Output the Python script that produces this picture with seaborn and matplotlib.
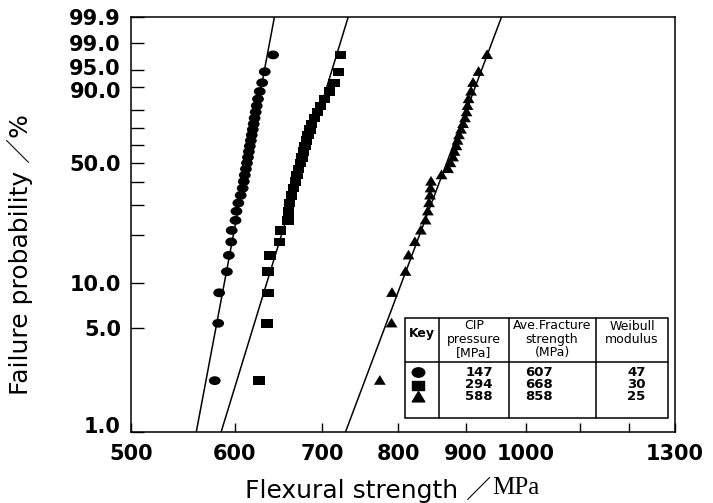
import numpy as np
import pandas as pd
import matplotlib
matplotlib.use("Agg")
import matplotlib.pyplot as plt
import matplotlib.transforms as mtransforms
import seaborn as sns
from matplotlib.path import Path
from matplotlib.lines import Line2D
from matplotlib.patches import Rectangle
from matplotlib.ticker import NullLocator

# ---------------- data ----------------
cip_pressure = [147, 294, 588]
ave_strength = [607, 668, 858]
weibull_modulus = [47, 30, 25]

failure_prob = [2.23, 5.41, 8.60, 11.78, 14.97, 18.15, 21.34, 24.52, 27.71, 30.89,
                34.08, 37.26, 40.45, 43.63, 46.82, 50.00, 53.18, 56.37, 59.55, 62.74,
                65.92, 69.11, 72.29, 75.48, 78.66, 81.85, 85.03, 88.22, 91.40, 94.59,
                97.77]

strength_147 = [579.5, 583, 584, 592, 594, 596.5, 597, 601, 602, 604,
                606.5, 608.6, 609.8, 610.9, 612.1, 613.2, 614.3, 615.3, 616.3, 617.4,
                618.4, 619.5, 620.5, 621.5, 622.7, 623.8, 625.2, 627.1, 629.8, 632.7,
                642]
strength_294 = [626, 635.4, 636.5, 636.5, 638.3, 649.2, 650.3, 659, 659.6, 660.7,
                663, 665.4, 667.7, 669.5, 671.2, 673.6, 675.4, 677.2, 679, 680.8,
                682.6, 684.9, 686.8, 690.4, 694, 697.7, 702.6, 708.8, 714.4, 720.1,
                722.6]
strength_588 = [774.3, 790.4, 791, 810, 814.3, 823.4, 832.1, 839, 842.4, 844.1,
                845.6, 846.4, 847.1, 862.9, 872.8, 876.6, 880.5, 882.8, 885.9, 887.5,
                889.8, 892.9, 896.1, 899.2, 901.6, 903.2, 904.8, 908.8, 912, 920.8,
                934.7]

# fitted Weibull lines: strength at 1.0 % and at 99.9 % failure probability
fit_prob = [1.0, 99.9]
fit_strength_low = [561, 586, 729]
fit_strength_high = [643.5, 732.5, 958.7]

x_ticks = [500, 600, 700, 800, 900, 1000, 1100, 1200, 1300]
x_ticklabels = ["500", "600", "700", "800", "900", "1000", "", "", "1300"]
y_ticks = [1.0, 5.0, 10.0, 20, 30, 40, 50.0, 60, 70, 80, 90.0, 95.0, 99.0, 99.9]
y_ticklabels = ["1.0", "5.0", "10.0", "", "", "", "50.0", "", "", "", "90.0", "95.0", "99.0", "99.9"]

# ---------------- style ----------------
sns.set_theme(style="ticks")
plt.rcParams["font.family"] = ["DejaVu Sans", "Noto Sans CJK JP"]

W, H = 713, 503
fig = plt.figure(figsize=(W / 100, H / 100), dpi=100)
L, R, T, B = 130.7, 675.0, 17.0, 432.0
ax = fig.add_axes([L / W, (H - B) / H, (R - L) / W, (B - T) / H])


def weib_fwd(p):
    p = np.clip(np.asarray(p, dtype=float), 1e-9, 100 - 1e-9)
    return np.log(-np.log(1.0 - p / 100.0))


def weib_inv(w):
    return 100.0 * (1.0 - np.exp(-np.exp(np.asarray(w, dtype=float))))


ax.set_xscale("log")
ax.set_yscale("function", functions=(weib_fwd, weib_inv))

# markers (slightly wide, as in the scanned figure)
ell = Path.unit_circle().transformed(mtransforms.Affine2D().scale(1.0, 0.75))
sq = Path([(-1, -0.72), (1, -0.72), (1, 0.72), (-1, 0.72), (-1, -0.72)],
          [Path.MOVETO, Path.LINETO, Path.LINETO, Path.LINETO, Path.CLOSEPOLY])
tri = Path([(-1, -0.7), (1, -0.7), (0, 0.95), (-1, -0.7)],
           [Path.MOVETO, Path.LINETO, Path.LINETO, Path.CLOSEPOLY])
marker_list = [ell, sq, tri]
marker_map = {str(c): m for c, m in zip(cip_pressure, marker_list)}

strengths = [strength_147, strength_294, strength_588]
points = pd.concat(
    [pd.DataFrame({"strength": s, "prob": failure_prob, "cip": str(c)})
     for c, s in zip(cip_pressure, strengths)],
    ignore_index=True)

sns.scatterplot(data=points, x="strength", y="prob", style="cip",
                markers=marker_map, color="black", s=72, linewidth=0,
                legend=False, ax=ax, zorder=3)

for lo, hi in zip(fit_strength_low, fit_strength_high):
    ax.plot([lo, hi], fit_prob, color="black", lw=1.1, zorder=2)

ax.set_xlim(500, 1300)
ax.set_ylim(1.0, 99.9)

ax.set_xticks(x_ticks)
ax.set_xticklabels(x_ticklabels)
ax.xaxis.set_minor_locator(NullLocator())
ax.set_yticks(y_ticks)
ax.set_yticklabels(y_ticklabels)
ax.yaxis.set_minor_locator(NullLocator())

ax.tick_params(axis="y", direction="in", length=9.5, width=1.0, color="black",
               labelsize=15, pad=7, labelcolor="black")
ax.tick_params(axis="x", direction="in", length=6.5, width=1.0, color="black",
               labelsize=15, pad=9, labelcolor="black")
for lab in ax.get_xticklabels() + ax.get_yticklabels():
    lab.set_fontweight("bold")

# nudge crowded y labels apart (as in the reference, where 1.0 sits a bit above the axis)
label_shift_px = {"95.0": 3.5, "90.0": -3.5, "1.0": 7.0}
for lab in ax.get_yticklabels():
    dy = label_shift_px.get(lab.get_text())
    if dy:
        lab.set_transform(lab.get_transform() +
                          mtransforms.ScaledTranslation(0, dy / 100, fig.dpi_scale_trans))

for sp in ax.spines.values():
    sp.set_visible(True)
    sp.set_color("black")
    sp.set_linewidth(1.1)

ax.set_xlabel("")
ax.set_ylabel("Failure probability ／%", fontsize=18, color="black")
ax.yaxis.set_label_coords((33 - L) / (R - L), (B - 255) / (B - T))

t1 = fig.text(245 / W, 1 - 490 / H, "Flexural strength ／", fontsize=18,
              ha="left", va="center", color="black")
ax.annotate("MPa", xy=(1, 0.5), xycoords=t1, xytext=(1, 1.5),
            textcoords="offset points", ha="left", va="center",
            fontsize=18, family="Liberation Serif", color="black")

# ---------------- table ----------------
def axp(px, py):
    return ((px - L) / (R - L), (B - py) / (B - T))


x0, ytop = axp(405, 318)
x1, ybot = axp(668, 418)
_, ysep = axp(0, 362)
ax.add_patch(Rectangle((x0, ybot), x1 - x0, ytop - ybot, transform=ax.transAxes,
                       facecolor="white", edgecolor="black", lw=1.1, zorder=5))
for px in [439, 509, 596]:
    xc, _ = axp(px, 0)
    ax.add_line(Line2D([xc, xc], [ybot, ytop], transform=ax.transAxes,
                       color="black", lw=1.1, zorder=6))
ax.add_line(Line2D([x0, x1], [ysep, ysep], transform=ax.transAxes,
                   color="black", lw=1.1, zorder=6))

hdr_kw = dict(transform=ax.transAxes, ha="center", va="center", fontsize=9,
              color="black", zorder=7, linespacing=1.05)
ax.text(*axp(422, 334), "Key", fontweight="bold", **hdr_kw)
ax.text(*axp(474, 339), "CIP\npressure\n[MPa]", **hdr_kw)
ax.text(*axp(552, 339), "Ave.Fracture\nstrength\n(MPa)", **hdr_kw)
ax.text(*axp(632, 333), "Weibull\nmodulus", **hdr_kw)

row_y = [372, 384.5, 397]
for yy, m, c, a, wm in zip(row_y, marker_list, cip_pressure, ave_strength, weibull_modulus):
    mx, my = axp(418, yy)
    ax.plot([mx], [my], marker=m, color="black", markersize=9, ls="none",
            transform=ax.transAxes, zorder=7, clip_on=False)
    body_kw = dict(transform=ax.transAxes, ha="center", va="center", fontsize=9.5,
                   fontweight="bold", color="black", zorder=7)
    ax.text(*axp(479, yy), str(c), **body_kw)
    ax.text(*axp(539, yy), str(a), **body_kw)
    ax.text(*axp(636.5, yy), str(wm), **body_kw)

fig.savefig("out.png", dpi=100, facecolor="white")
